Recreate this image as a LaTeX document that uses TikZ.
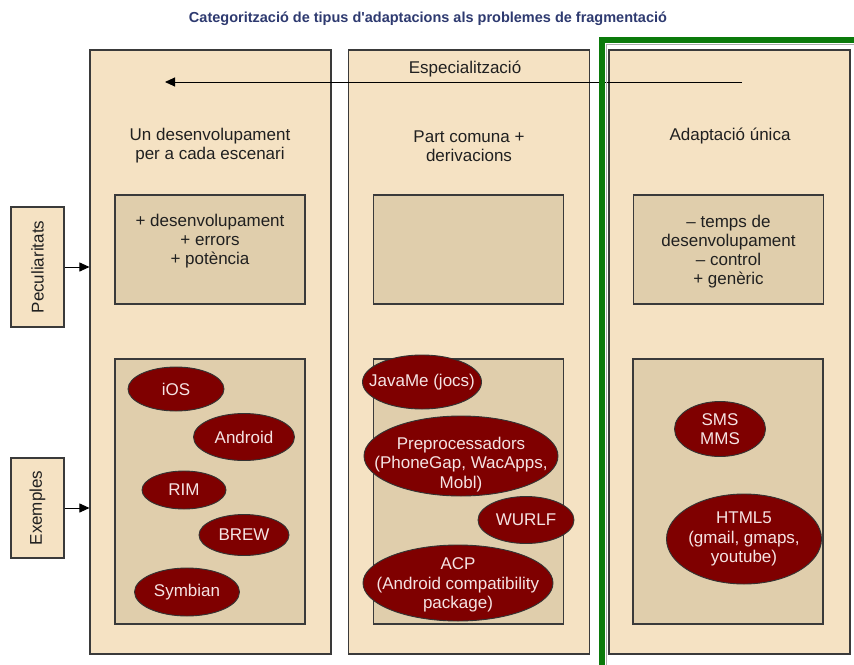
\documentclass[tikz,border=0pt]{standalone}
\usepackage{fontspec}
\setmainfont{Liberation Sans}[Ligatures=TeXOff]
\usetikzlibrary{shapes.geometric,arrows.meta}
\definecolor{colfill}{HTML}{F5E2C3}
\definecolor{boxfill}{HTML}{E0CEAC}
\definecolor{ellfill}{HTML}{7F0000}
\definecolor{elltext}{HTML}{F5E3E3}
\definecolor{titlecol}{HTML}{2E3A70}
\definecolor{greenframe}{HTML}{0B7A0B}
\definecolor{edge}{HTML}{3A3A3A}
\definecolor{txt}{HTML}{202020}
\begin{document}
\begin{tikzpicture}[x=1pt,y=-1pt,
  every node/.style={font=\fontsize{17}{19.2}\selectfont, text=txt, align=center},
  column/.style={draw=edge, line width=1.1pt, fill=colfill, minimum width=241pt, minimum height=604pt, inner sep=0pt},
  topbox/.style={draw=edge, line width=1.1pt, fill=boxfill, minimum width=190pt, minimum height=109pt, inner sep=0pt},
  botbox/.style={draw=edge, line width=1.1pt, fill=boxfill, minimum width=190pt, minimum height=265pt, inner sep=0pt},
  sidebox/.style={draw=edge, line width=1.1pt, fill=colfill, minimum height=53pt, inner sep=0pt, rotate=90},
  ell/.style={ellipse, draw=black!80, line width=0.9pt, fill=ellfill, inner sep=0pt},
  elltxt/.style={text=elltext, inner sep=0pt},
  arr/.style={draw=black, line width=0.9pt, -{Triangle[length=10pt,width=9pt]}}
]
\useasboundingbox (0,0) rectangle (854,664);
\fill[white] (0,0) rectangle (854,664);

\node[font=\fontsize{14.5}{17}\selectfont\bfseries, text=titlecol] (title) at (428,19) {Categorització de tipus d'adaptacions als problemes de fragmentació};

% columns
\node[column] (c1) at (210.5,352) {};
\node[column] (c2) at (469,352) {};
\node[column] (c3) at (729.5,352) {};

% headers
\node (h1) at (210,146) {Un desenvolupament\\per a cada escenari};
\node (h2) at (469,146) {Part comuna +\\derivacions};
\node (h3) at (730,136) {Adaptació única};

% top boxes
\node[topbox] (t1) at (210,249.5) {};
\node[topbox] (t2) at (468.5,249.5) {};
\node[topbox] (t3) at (728.5,249.5) {};
\node[anchor=north, inner sep=0pt] (t1txt) at (210,213.5) {+ desenvolupament\\+ errors\\+ potència};
\node (t3txt) at (728.5,251.5) {– temps de\\desenvolupament\\– control\\+ genèric};

% bottom boxes
\node[botbox] (b1) at (210,491.5) {};
\node[botbox] (b2) at (468.5,491.5) {};
\node[botbox] (b3) at (728,491.5) {};

% side boxes
\node[sidebox, minimum width=120pt] (pec) at (37.5,267) {Peculiaritats};
\node[sidebox, minimum width=100pt] (exe) at (37.5,508) {Exemples};
\draw[arr] (pec.south) -- (pec.south -| c1.west);
\draw[arr] (exe.south) -- (exe.south -| c1.west);

% specialisation arrow
\coordinate (sa) at (742,82);
\coordinate (sb) at (165,82);
\draw[arr] (sa) -- (sb);
\node (esp) at (465,69) {Especialització};

% ellipses column 1
\node[ell, minimum width=96pt, minimum height=44pt] (ios) at (176,389) {};
\node[elltxt] at (ios) {iOS};
\node[ell, minimum width=101pt, minimum height=47pt] (android) at (244,437) {};
\node[elltxt] at (android) {Android};
\node[ell, minimum width=84pt, minimum height=38pt] (rim) at (184,490) {};
\node[elltxt] at (rim) {RIM};
\node[ell, minimum width=90pt, minimum height=41pt] (brew) at (244,535) {};
\node[elltxt] at (brew) {BREW};
\node[ell, minimum width=105pt, minimum height=48pt] (symbian) at (187,592) {};
\node[elltxt] at (symbian) {Symbian};

% ellipses column 2
\node[ell, minimum width=119pt, minimum height=54pt] (javame) at (422,382) {};
\node[elltxt] at (javame) {JavaMe (jocs)};
\node[ell, minimum width=194pt, minimum height=80pt] (prep) at (461,456) {};
\node[elltxt] at ([yshift=-8.5pt]prep.center) {Preprocessadors\\(PhoneGap, WacApps,\\Mobl)};
\node[ell, minimum width=96pt, minimum height=47pt] (wurlf) at (526,520) {};
\node[elltxt] at (wurlf) {WURLF};
\node[ell, minimum width=190pt, minimum height=76pt] (acp) at (458,583) {};
\node[elltxt] at ([yshift=-2pt]acp.center) {ACP\\(Android compatibility\\package)};

% ellipses column 3
\node[ell, minimum width=91pt, minimum height=55pt] (sms) at (720,429) {};
\node[elltxt] at (sms) {SMS\\MMS};
\node[ell, minimum width=155pt, minimum height=90pt] (html) at (744,539) {};
\node[elltxt] at (html) {HTML5\\(gmail, gmaps,\\youtube)};

% green frame
\draw[gray!65, line width=1.6pt] (606.6,680) -- (606.6,44.6) -- (870,44.6);
\draw[greenframe, line width=5.5pt] (602,680) -- (602,40) -- (870,40);
\end{tikzpicture}
\end{document}
